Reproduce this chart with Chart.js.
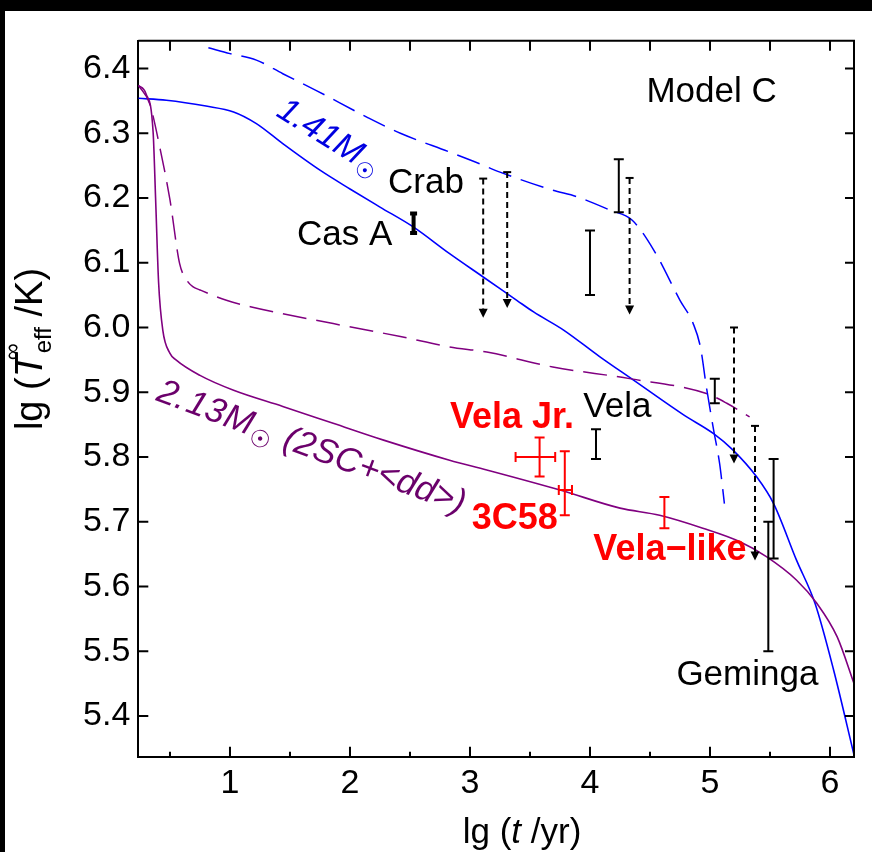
<!DOCTYPE html>
<html>
<head>
<meta charset="utf-8">
<script src="https://cdn.jsdelivr.net/npm/chart.js@4.4.0/dist/chart.umd.min.js"></script>
<style>
html,body{margin:0;padding:0;background:#000;overflow:hidden;}
#wrap{position:absolute;left:5px;top:11px;width:867px;height:841px;background:#fff;}
canvas{display:block;}
</style>
</head>
<body>
<div id="wrap"><canvas id="chart" width="867" height="841"></canvas></div>
<script>
// curves: lg t (x) vs lg Teff (y)
const blueSolidX=[0.236,0.47,0.8,1.03,1.22,1.44,1.75,2.0,2.25,2.53,2.83,3.11,3.39,3.53,3.78,4.08,4.36,4.78,5.03,5.19,5.39,5.53,5.72,5.875,6.03,6.2];
const blueSolidY=[6.354,6.351,6.342,6.333,6.315,6.284,6.243,6.214,6.186,6.155,6.114,6.078,6.042,6.024,5.996,5.955,5.919,5.865,5.836,5.811,5.769,5.728,5.641,5.574,5.471,5.34];
const blueDashX=[0.82,1.0,1.22,1.44,1.72,2.14,2.42,2.83,3.08,3.25,3.69,3.89,4.17,4.35,4.53,4.75,4.86,4.92,4.97,5.03,5.08,5.12];
const blueDashY=[6.432,6.423,6.413,6.392,6.366,6.325,6.300,6.271,6.253,6.240,6.212,6.202,6.181,6.166,6.120,6.042,6.006,5.970,5.908,5.842,5.790,5.728];
const purpleSolidX=[0.236,0.30,0.36,0.38,0.405,0.44,0.50,0.55,0.75,1.03,1.44,1.86,2.28,2.83,3.14,3.75,4.25,4.58,4.94,5.25,5.47,5.72,5.89,6.06,6.2];
const purpleSolidY=[6.374,6.361,6.300,6.200,6.070,5.996,5.960,5.950,5.926,5.903,5.878,5.852,5.826,5.795,5.780,5.749,5.721,5.710,5.690,5.669,5.646,5.610,5.574,5.522,5.450];
const purpleDashX=[0.236,0.33,0.42,0.50,0.58,0.64,0.69,0.75,0.97,1.17,1.86,2.42,2.83,3.14,3.69,4.33,4.97,5.14,5.33];
const purpleDashY=[6.374,6.346,6.274,6.197,6.099,6.073,6.063,6.058,6.042,6.032,6.006,5.986,5.970,5.962,5.939,5.921,5.898,5.883,5.862];

// observations: black error bars [x, low, high]
const obsX=[2.53,4.24,4.00,4.05,5.04,5.53,5.486];
const obsLow=[6.146,6.178,6.05,5.797,5.883,5.643,5.50];
const obsHigh=[6.176,6.26,6.15,5.843,5.921,5.797,5.70];
// upper limits [x, top, arrow tip]
const limX=[3.11,3.31,4.33,5.20,5.375];
const limTop=[6.23,6.24,6.231,6.00,5.848];
const limTip=[6.015,6.03,6.02,5.79,5.64];
// red sources
const redX=[3.58,3.79,4.62];
const redXLow=[3.38,3.74,null];
const redXHigh=[3.71,3.85,null];
const redY=[5.80,5.749,5.714];
const redYLow=[5.77,5.71,5.69];
const redYHigh=[5.83,5.809,5.738];

const xTicks=[1,2,3,4,5,6];
const xMinor=[0.5,1.5,2.5,3.5,4.5,5.5];
const yTicks=[5.4,5.5,5.6,5.7,5.8,5.9,6.0,6.1,6.2,6.3,6.4];

const FONT='"Liberation Sans", Arial, "DejaVu Sans", sans-serif';
const toXY=(xs,ys)=>xs.map((x,i)=>({x,y:ys[i]}));
const line=(xs,ys,color,width,dash)=>({data:toXY(xs,ys),showLine:true,borderColor:color,borderWidth:width,borderDash:dash,pointRadius:0,cubicInterpolationMode:'monotone',fill:false});

// text made of parts along a rotated baseline
function rich(c,x,y,ang,parts,color,center){
  c.save();c.translate(x,y);c.rotate(ang);c.fillStyle=color;c.textBaseline='alphabetic';c.textAlign='left';
  const adv=p=>{c.font=p.f;return p.adv!==undefined?p.adv:c.measureText(p.t).width;};
  let w=0;parts.forEach(p=>{w+=adv(p)+(p.dx||0);});
  let cx=center?-w/2:0;
  parts.forEach(p=>{c.font=p.f;c.fillText(p.t,cx+(p.dx||0),p.dy||0);cx+=adv(p)+(p.dx||0);});
  c.restore();
}

const decor={
  id:'decor',
  afterDatasetsDraw(chart){
    const c=chart.ctx,a=chart.chartArea,xs=chart.scales.x,ys=chart.scales.y;
    const X=v=>xs.getPixelForValue(v),Y=v=>ys.getPixelForValue(v);
    c.save();
    c.strokeStyle='#000';c.lineWidth=2;
    c.beginPath();c.moveTo(a.left,a.top);c.lineTo(a.right,a.top);c.lineTo(a.right,a.bottom);c.stroke();
    c.beginPath();
    xTicks.forEach(v=>{c.moveTo(X(v),a.bottom);c.lineTo(X(v),a.bottom-10);c.moveTo(X(v),a.top);c.lineTo(X(v),a.top+10);});
    xMinor.forEach(v=>{c.moveTo(X(v),a.bottom);c.lineTo(X(v),a.bottom-5);c.moveTo(X(v),a.top);c.lineTo(X(v),a.top+10);});
    yTicks.forEach(v=>{c.moveTo(a.left,Y(v));c.lineTo(a.left+10,Y(v));c.moveTo(a.right,Y(v));c.lineTo(a.right-9,Y(v));});
    c.stroke();

    // black error bars
    obsX.forEach((x,i)=>{
      const px=X(x),lo=Y(obsLow[i]),hi=Y(obsHigh[i]),cw=i===0?3.5:5;
      c.lineWidth=i===0?4:2;
      c.beginPath();c.moveTo(px,lo);c.lineTo(px,hi);
      c.moveTo(px-cw,lo);c.lineTo(px+cw,lo);c.moveTo(px-cw,hi);c.lineTo(px+cw,hi);c.stroke();
    });
    // upper limits
    limX.forEach((x,i)=>{
      const px=X(x),top=Y(limTop[i]),tip=Y(limTip[i]);
      c.lineWidth=2;
      c.beginPath();c.moveTo(px-4,top);c.lineTo(px+4,top);c.stroke();
      c.setLineDash([6,4]);
      c.beginPath();c.moveTo(px,top);c.lineTo(px,tip-8);c.stroke();
      c.setLineDash([]);
      c.fillStyle='#000';
      c.beginPath();c.moveTo(px,tip);c.lineTo(px-4.5,tip-9);c.lineTo(px+4.5,tip-9);c.closePath();c.fill();
    });
    // red sources
    c.strokeStyle='#ff0000';c.lineWidth=2;
    redX.forEach((x,i)=>{
      const px=X(x),py=Y(redY[i]),lo=Y(redYLow[i]),hi=Y(redYHigh[i]);
      c.beginPath();c.moveTo(px,lo);c.lineTo(px,hi);
      c.moveTo(px-5,lo);c.lineTo(px+5,lo);c.moveTo(px-5,hi);c.lineTo(px+5,hi);
      if(redXLow[i]!==null){
        const l=X(redXLow[i]),r=X(redXHigh[i]);
        c.moveTo(l,py);c.lineTo(r,py);c.moveTo(l,py-5);c.lineTo(l,py+5);c.moveTo(r,py-5);c.lineTo(r,py+5);
      }
      c.stroke();
    });

    // labels
    c.textBaseline='alphabetic';c.textAlign='left';
    const txt=(t,x,y,color,bold)=>{c.font=(bold?'bold 36px ':'35px ')+FONT;c.fillStyle=color;c.fillText(t,X(x),Y(y));};
    txt('Model C',4.47,6.348,'#000');
    txt('Crab',2.317,6.2075,'#000');
    txt('Cas A',1.558,6.127,'#000');
    txt('Vela',3.944,5.861,'#000');
    txt('Geminga',4.72,5.448,'#000');
    txt('Vela Jr.',2.833,5.845,'#ff0000',true);
    txt('3C58',3.014,5.688,'#ff0000',true);
    txt('Vela\u2212like',4.028,5.641,'#ff0000',true);

    const it='italic 34px '+FONT,sm='22px "DejaVu Sans", '+FONT;
    rich(c,X(1.375),Y(6.328),32*Math.PI/180,[{t:'1.41',f:it},{t:'M',f:it},{t:'\u2609',f:sm,dy:7,dx:1}],'#0000e0');
    const it2='italic 35px '+FONT,sm2='24px "DejaVu Sans", '+FONT;
    rich(c,X(0.375),Y(5.888),20.5*Math.PI/180,[{t:'2.',f:it2},{t:'13',f:it2,dx:2},{t:'M',f:it2,dx:1},{t:'\u2609',f:sm2,dy:8,dx:1},{t:'(2SC+<dd>)',f:it2,dx:12}],'#6b006b');

    // axis titles
    const rg='38px '+FONT,ri='italic 38px '+FONT,sub='24px '+FONT;
    rich(c,37,349-11,-Math.PI/2,[{t:'lg (',f:rg},{t:'T',f:ri,adv:24},{t:'\u221e',f:sub,dy:-22,dx:-7,adv:0},{t:'eff',f:sub,dy:9,dx:7},{t:' /K)',f:rg}],'#000',true);
    const rx='35px '+FONT,rxi='italic 35px '+FONT;
    rich(c,517,832,0,[{t:'lg (',f:rx},{t:'t',f:rxi},{t:' /yr)',f:rx}],'#000',true);
    c.restore();
  }
};

new Chart(document.getElementById('chart'),{
  type:'scatter',
  data:{datasets:[
    line(blueDashX,blueDashY,'#0000ff',1.5,[24,10]),
    line(purpleDashX,purpleDashY,'#800080',1.5,[24,10]),
    line(purpleSolidX,purpleSolidY,'#800080',1.6,[]),
    line(blueSolidX,blueSolidY,'#0000ff',1.6,[])
  ]},
  options:{
    responsive:false,animation:false,
    layout:{padding:{top:29.7,right:18,left:0,bottom:0}},
    plugins:{legend:{display:false},tooltip:{enabled:false}},
    scales:{
      x:{type:'linear',min:0.236,max:6.2,
        afterBuildTicks:s=>{s.ticks=xTicks.map(v=>({value:v}));},
        afterFit:s=>{s.height=95.3;},
        grid:{display:true,drawOnChartArea:false,drawTicks:false},
        border:{display:true,color:'#000',width:2},
        ticks:{color:'#000',font:{family:FONT,size:34},padding:7,maxRotation:0,autoSkip:false,callback:v=>String(v)}},
      y:{type:'linear',min:5.337,max:6.443,
        afterBuildTicks:s=>{s.ticks=yTicks.map(v=>({value:v}));},
        afterFit:s=>{s.width=133.3;},
        grid:{display:true,drawOnChartArea:false,drawTicks:false},
        border:{display:true,color:'#000',width:2},
        ticks:{color:'#000',font:{family:FONT,size:34},padding:8,autoSkip:false,callback:v=>v.toFixed(1)}}
    }
  },
  plugins:[decor]
});
</script>
</body>
</html>
